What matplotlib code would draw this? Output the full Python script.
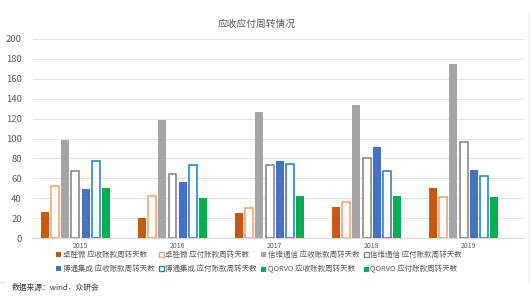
import numpy as np
import matplotlib
matplotlib.use('Agg')
import matplotlib.pyplot as plt
from matplotlib.lines import Line2D

plt.rcParams['font.family'] = ['Noto Sans CJK SC', 'DejaVu Sans']

# data
years = ['2015', '2016', '2017', '2018', '2019']
series_names = [
    '卓胜微 应收账款周转天数', '卓胜微 应付账款周转天数',
    '信维通信 应收账款周转天数', '信维通信 应付账款周转天数',
    '博通集成 应收账款周转天数', '博通集成 应付账款周转天数',
    'QORVO 应收账款周转天数', 'QORVO 应付账款周转天数',
]
zsw_ar = [26, 20, 25, 31, 50]
zsw_ap = [52, 42, 30, 36, 41]
xwtx_ar = [98, 119, 127, 134, 175]
xwtx_ap = [67, 64, 73, 80, 96]
btjc_ar = [49, 56, 77, 91, 68]
btjc_ap = [77, 73, 74, 67, 62]
qorvo_ar = [50, 40, 42, 42, 41]
qorvo_ap = [np.nan] * 5  # no bars shown for this series

values = [zsw_ar, zsw_ap, xwtx_ar, xwtx_ap, btjc_ar, btjc_ap, qorvo_ar, qorvo_ap]

# (face, edge, hollow?)
styles = [
    ('#C55A11', '#C55A11', False),
    ('white', '#F4A06A', True),
    ('#A5A5A5', '#A5A5A5', False),
    ('white', '#808080', True),
    ('#4472C4', '#4472C4', False),
    ('white', '#1F78C8', True),
    ('#00B050', '#00B050', False),
    ('#00B050', '#00B050', False),
]

fig = plt.figure(figsize=(5.3, 2.97), dpi=100)
ax = fig.add_axes([33 / 530, 1 - 238 / 297, (524 - 33) / 530, (238 - 39) / 297])

x = np.arange(len(years))
step = 0.105
width = 0.082
handles = []
for i, (vals, (fc, ec, hollow)) in enumerate(zip(values, styles)):
    off = (i - 3.5) * step
    ax.bar(x + off, vals, width, color=fc, edgecolor=ec,
           linewidth=1.1 if hollow else 0, zorder=3)
    # legend marker
    handles.append(Line2D([], [], linestyle='none', marker='s', markersize=3.6,
                          markerfacecolor=fc, markeredgecolor=ec,
                          markeredgewidth=0.9 if hollow else 0,
                          label=series_names[i]))

ax.set_xlim(-0.49, 4.57)
ax.set_ylim(0, 200)
ax.set_yticks(range(0, 201, 20))
ax.set_xticks(x)
ax.set_xticklabels(years)
ax.tick_params(axis='y', length=0, pad=8, labelsize=6.8, labelcolor='#595959')
ax.tick_params(axis='x', length=0, pad=3, labelsize=5, labelcolor='#595959')
ax.grid(axis='y', color='#E3E3E3', linewidth=0.8, zorder=0)
for s in ['top', 'right', 'left']:
    ax.spines[s].set_visible(False)
ax.spines['bottom'].set_color('#D9D9D9')
ax.spines['bottom'].set_linewidth(0.8)

fig.text(257 / 530, 1 - 24 / 297, '应收应付周转情况', ha='center', va='center',
         fontsize=7, color='#595959')

# legend fills column by column, reorder so rows read left to right
order = [0, 4, 1, 5, 2, 6, 3, 7]
fig.legend(handles=[handles[k] for k in order], ncol=4, loc='upper left',
           bbox_to_anchor=(56 / 530, 1 - 251 / 297), frameon=False,
           fontsize=5.4, labelcolor='#595959', handlelength=0.6,
           handletextpad=0.3, columnspacing=0.55, labelspacing=0.75,
           borderaxespad=0, borderpad=0)

fig.text(12 / 530, 1 - 288 / 297, '数据来源：wind，众研会', ha='left', va='center',
         fontsize=5.6, color='#333333')

# chart frame remnants
fig.add_artist(Line2D([529 / 530, 529 / 530], [1 - 282 / 297, 1 - 13 / 297],
                      transform=fig.transFigure, color='#E6E6E6', linewidth=0.8))
fig.add_artist(Line2D([0, 5 / 530], [1 - 282 / 297, 1 - 282 / 297],
                      transform=fig.transFigure, color='#E6E6E6', linewidth=0.8))

fig.savefig('out.png', dpi=100)
